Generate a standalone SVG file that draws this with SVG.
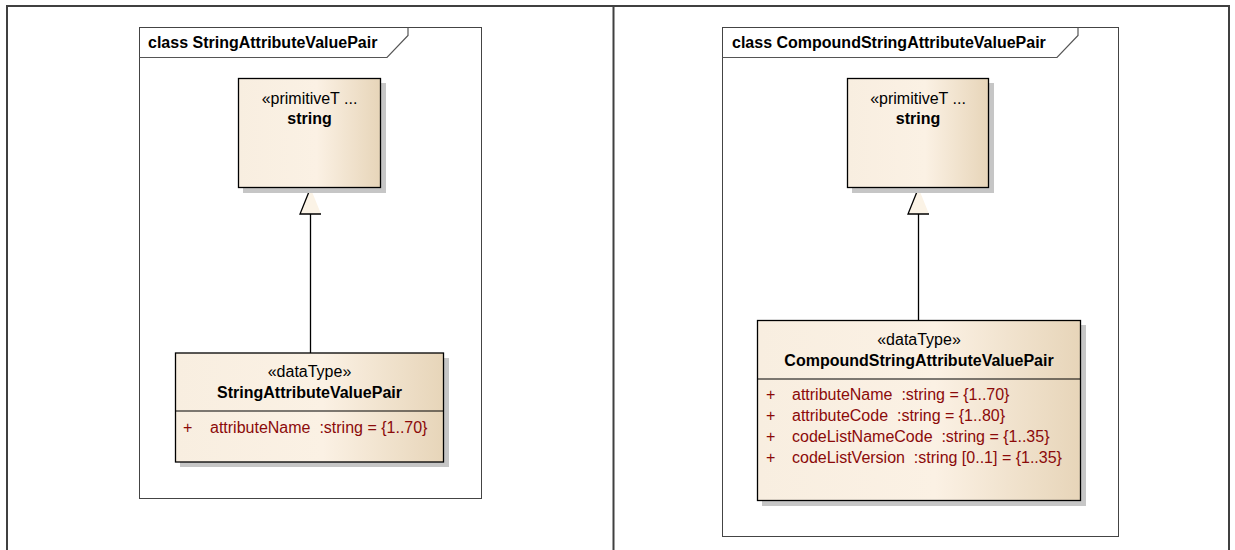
<svg xmlns="http://www.w3.org/2000/svg" width="1235" height="550" viewBox="0 0 1235 550">
<defs>
<linearGradient id="boxfill" x1="0" y1="0" x2="1" y2="0">
<stop offset="0" stop-color="#F8EEE0"/>
<stop offset="0.55" stop-color="#FBF1E4"/>
<stop offset="1" stop-color="#E7D5B9"/>
</linearGradient>
<style>
.tbl{fill:none;stroke:#404040;stroke-width:2}
.frame{fill:#fff;stroke:#444;stroke-width:1}
.tab{fill:none;stroke:#555;stroke-width:1.2}
.title{font-family:"Liberation Sans",Arial,sans-serif;font-size:16px;font-weight:bold;fill:#000}
.shadow{fill:#C6C6C6}
.box{fill:url(#boxfill);stroke:#000;stroke-width:1.3}
.div{stroke:#000;stroke-width:1.2}
.st{font-family:"Liberation Sans",Arial,sans-serif;font-size:16px;fill:#000;text-anchor:middle}
.nm{font-family:"Liberation Sans",Arial,sans-serif;font-size:16px;font-weight:bold;fill:#000;text-anchor:middle}
.at{font-family:"Liberation Sans",Arial,sans-serif;font-size:16px;fill:#8B0A0A;white-space:pre}
.line{fill:none;stroke:#000;stroke-width:1.3}
.tri{fill:#FBF3E6;stroke:none}
</style>
</defs>

<g id="table">
<path class="tbl" d="M7,550 V6 H1229 V550 M613.5,6 V550"/>
</g>

<g id="frame-left">
<rect class="frame" x="139.5" y="27.5" width="342" height="471"/>
<path class="tab" d="M139.5,57.5 H387 L408,35.5 V27.5"/>
<text class="title" x="148" y="48">class StringAttributeValuePair</text>
</g>

<g id="frame-right">
<rect class="frame" x="722.5" y="27.5" width="396" height="509"/>
<path class="tab" d="M722.5,57.5 H1057 L1078,35.5 V27.5"/>
<text class="title" x="732" y="48">class CompoundStringAttributeValuePair</text>
</g>

<g id="connectors">
<polygon class="tri" points="310.5,188 300,214 321,214"/>
<polyline class="line" points="310.5,188 300,214 321,214"/>
<line class="line" x1="310.5" y1="214" x2="310.5" y2="353"/>
<polygon class="tri" points="918.5,188 908,214 929,214"/>
<polyline class="line" points="918.5,188 908,214 929,214"/>
<line class="line" x1="918.5" y1="214" x2="918.5" y2="320"/>
</g>

<g id="node-string-left">
<rect class="shadow" x="243" y="83" width="143" height="110"/>
<rect class="box" x="238.5" y="78.5" width="142" height="109"/>
<text class="st" x="309.5" y="104">«primitiveT ...</text>
<text class="nm" x="309.5" y="124">string</text>
</g>

<g id="node-StringAttributeValuePair">
<rect class="shadow" x="180" y="358" width="269" height="109"/>
<rect class="box" x="175.5" y="353" width="268" height="109"/>
<line class="div" x1="175.5" y1="411" x2="443.5" y2="411"/>
<text class="st" x="309.5" y="377">«dataType»</text>
<text class="nm" x="309.5" y="398">StringAttributeValuePair</text>
<text class="at" x="183" y="433">+</text>
<text class="at" x="210" y="433">attributeName  :string = {1..70}</text>
</g>

<g id="node-string-right">
<rect class="shadow" x="852" y="83" width="142" height="110"/>
<rect class="box" x="847.5" y="78.5" width="141" height="109"/>
<text class="st" x="918" y="104">«primitiveT ...</text>
<text class="nm" x="918" y="124">string</text>
</g>

<g id="node-CompoundStringAttributeValuePair">
<rect class="shadow" x="762" y="325" width="324" height="181"/>
<rect class="box" x="757.5" y="320.5" width="323" height="180"/>
<line class="div" x1="757.5" y1="379" x2="1080.5" y2="379"/>
<text class="st" x="919" y="345">«dataType»</text>
<text class="nm" x="919" y="366">CompoundStringAttributeValuePair</text>
<text class="at" x="766" y="400">+</text>
<text class="at" x="792" y="400">attributeName  :string = {1..70}</text>
<text class="at" x="766" y="421">+</text>
<text class="at" x="792" y="421">attributeCode  :string = {1..80}</text>
<text class="at" x="766" y="442">+</text>
<text class="at" x="792" y="442">codeListNameCode  :string = {1..35}</text>
<text class="at" x="766" y="463">+</text>
<text class="at" x="792" y="463">codeListVersion  :string [0..1] = {1..35}</text>
</g>
</svg>
